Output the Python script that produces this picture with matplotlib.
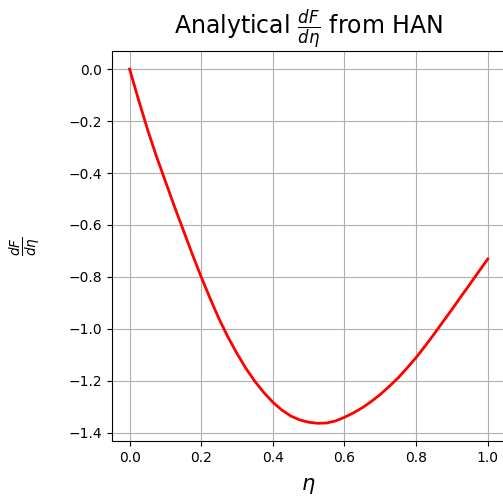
import matplotlib
matplotlib.use("Agg")
import matplotlib.pyplot as plt

# values
eta = [0.000, 0.025, 0.050, 0.075, 0.100, 0.125, 0.150, 0.175, 0.200, 0.225,
       0.250, 0.275, 0.300, 0.325, 0.350, 0.375, 0.400, 0.425, 0.450, 0.475,
       0.500, 0.525, 0.550, 0.575, 0.600, 0.625, 0.650, 0.675, 0.700, 0.725,
       0.750, 0.775, 0.800, 0.825, 0.850, 0.875, 0.900, 0.925, 0.950, 0.975, 1.000]
dF_deta = [0.000, -0.118, -0.232, -0.336, -0.432, -0.528, -0.620, -0.712, -0.800, -0.883,
           -0.962, -1.032, -1.095, -1.152, -1.202, -1.245, -1.282, -1.312, -1.335, -1.350,
           -1.359, -1.363, -1.362, -1.354, -1.340, -1.323, -1.303, -1.279, -1.252, -1.221,
           -1.188, -1.150, -1.110, -1.066, -1.020, -0.972, -0.925, -0.876, -0.828, -0.779, -0.731]

fig = plt.figure(figsize=(5.03, 4.97), dpi=100)
ax = fig.add_axes([0.222, 0.1127, 0.7833, 0.784])

ax.plot(eta, dF_deta, color='red', linewidth=2)

ax.set_title(r"Analytical $\frac{dF}{d\eta}$ from HAN", fontsize=17)
ax.set_xlabel(r"$\eta$", fontsize=15, labelpad=8)
ax.set_ylabel(r"$\frac{dF}{d\eta}$", fontsize=14, labelpad=18)
ax.grid(True)

fig.savefig("out.png", dpi=100)
